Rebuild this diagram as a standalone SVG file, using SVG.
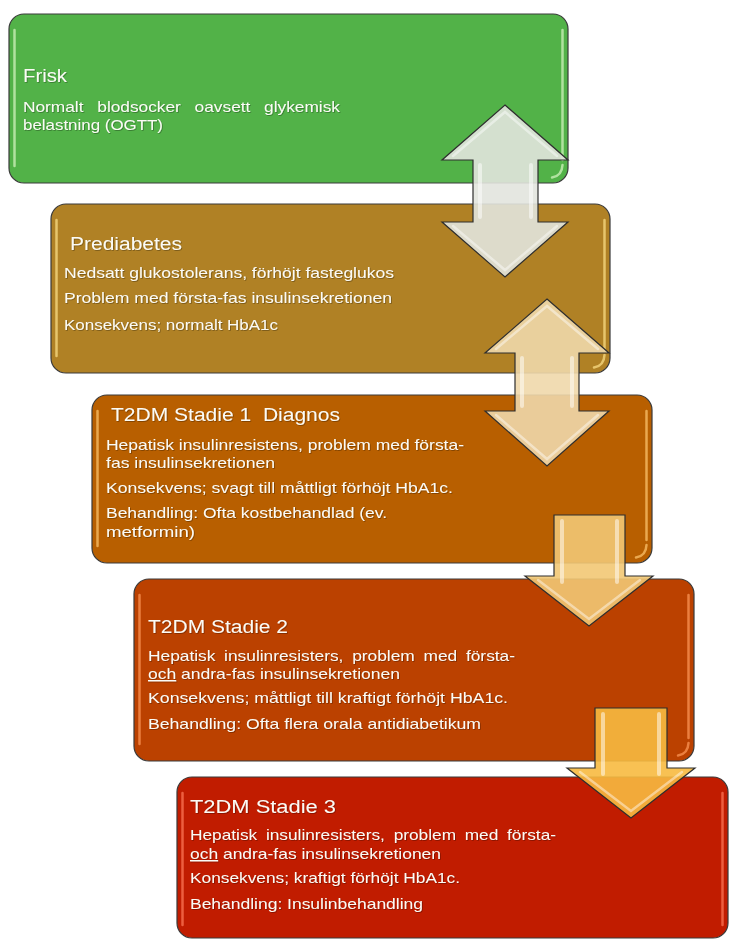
<svg xmlns="http://www.w3.org/2000/svg" width="729" height="940" viewBox="0 0 729 940">
<defs>
<filter id="ts" x="-5%" y="-30%" width="110%" height="160%">
<feDropShadow dx="0.8" dy="0.8" stdDeviation="0.5" flood-color="#000" flood-opacity="0.35"/>
</filter>
</defs>
<style>
.box{stroke:#3a3a3a;stroke-width:1.2}
.hl{fill:none;stroke-width:2.5;stroke-linecap:round;opacity:0.7}
.t{font-family:"Liberation Sans",Arial,sans-serif;fill:#fbfbf6;filter:url(#ts)}
.h{font-size:18px}
.b{font-size:14.5px}
.arr{stroke:#2e2e2e;stroke-width:1.2;stroke-linejoin:miter;fill-opacity:0.9}
.shine{fill:none;stroke:#ffffff;stroke-linecap:round}
.u{text-decoration:underline}
</style>
<rect width="729" height="940" fill="#ffffff"/>

<g id="frisk">
<rect class="box" x="9" y="14" width="559" height="169" rx="15" fill="#52b248"/>
<path class="hl" d="M14.5,30 L14.5,166" stroke="#d8f7c4"/>
<path class="hl" d="M562.5,30 L562.5,160 M562.5,165 Q562,176 552,177.5" stroke="#d8f7c4"/>
<text class="t h" x="23" y="82" textLength="44" lengthAdjust="spacingAndGlyphs">Frisk</text>
<text class="t b" x="23" y="112" textLength="317" lengthAdjust="spacingAndGlyphs" word-spacing="7.5">Normalt blodsocker oavsett glykemisk</text>
<text class="t b" x="23" y="130" textLength="140" lengthAdjust="spacingAndGlyphs">belastning (OGTT)</text>
</g>

<g id="prediabetes">
<rect class="box" x="51" y="204" width="559" height="169" rx="15" fill="#b08125"/>
<path class="hl" d="M56.5,220 L56.5,356" stroke="#ffe28a"/>
<path class="hl" d="M604.5,220 L604.5,350 M604.5,355 Q604,366 594,367.5" stroke="#ffe28a"/>
<text class="t h" x="70" y="250" textLength="112" lengthAdjust="spacingAndGlyphs">Prediabetes</text>
<text class="t b" x="64" y="278" textLength="330" lengthAdjust="spacingAndGlyphs">Nedsatt glukostolerans, förhöjt fasteglukos</text>
<text class="t b" x="64" y="303" textLength="328" lengthAdjust="spacingAndGlyphs">Problem med första-fas insulinsekretionen</text>
<text class="t b" x="64" y="330" textLength="214" lengthAdjust="spacingAndGlyphs">Konsekvens; normalt HbA1c</text>
</g>

<g id="stadie1">
<rect class="box" x="92" y="395" width="560" height="168" rx="15" fill="#b85f00"/>
<path class="hl" d="M97.5,411 L97.5,546" stroke="#ffc870"/>
<path class="hl" d="M646.5,411 L646.5,540 M646.5,545 Q646,556 636,557.5" stroke="#ffc870"/>
<text class="t h" x="111" y="421" textLength="229" lengthAdjust="spacingAndGlyphs" xml:space="preserve">T2DM Stadie 1  Diagnos</text>
<text class="t b" x="106" y="450" textLength="358" lengthAdjust="spacingAndGlyphs">Hepatisk insulinresistens, problem med första-</text>
<text class="t b" x="106" y="468" textLength="169" lengthAdjust="spacingAndGlyphs">fas insulinsekretionen</text>
<text class="t b" x="106" y="493" textLength="347" lengthAdjust="spacingAndGlyphs">Konsekvens; svagt till måttligt förhöjt HbA1c.</text>
<text class="t b" x="106" y="518" textLength="281" lengthAdjust="spacingAndGlyphs">Behandling: Ofta kostbehandlad (ev.</text>
<text class="t b" x="106" y="537" textLength="89" lengthAdjust="spacingAndGlyphs">metformin)</text>
</g>

<g id="stadie2">
<rect class="box" x="134" y="579" width="560" height="182" rx="15" fill="#bb4100"/>
<path class="hl" d="M139.5,595 L139.5,744" stroke="#ff9a5a"/>
<path class="hl" d="M688.5,595 L688.5,738 M688.5,743 Q688,754 678,755.5" stroke="#ff9a5a"/>
<text class="t h" x="148" y="633" textLength="140" lengthAdjust="spacingAndGlyphs">T2DM Stadie 2</text>
<text class="t b" x="148" y="661" textLength="367" lengthAdjust="spacingAndGlyphs" word-spacing="3.3">Hepatisk insulinresisters, problem med första-</text>
<text class="t b" x="148" y="679" textLength="252" lengthAdjust="spacingAndGlyphs"><tspan class="u">och</tspan> andra-fas insulinsekretionen</text>
<text class="t b" x="148" y="703" textLength="360" lengthAdjust="spacingAndGlyphs">Konsekvens; måttligt till kraftigt förhöjt HbA1c.</text>
<text class="t b" x="148" y="729" textLength="333" lengthAdjust="spacingAndGlyphs">Behandling: Ofta flera orala antidiabetikum</text>
</g>

<g id="stadie3">
<rect class="box" x="177" y="777" width="551" height="161" rx="15" fill="#c11c00"/>
<path class="hl" d="M182.5,793 L182.5,925" stroke="#ff7a5a"/>
<path class="hl" d="M722.5,793 L722.5,925" stroke="#ff7a5a"/>
<text class="t h" x="190" y="813" textLength="146" lengthAdjust="spacingAndGlyphs">T2DM Stadie 3</text>
<text class="t b" x="190" y="840" textLength="366" lengthAdjust="spacingAndGlyphs" word-spacing="3.3">Hepatisk insulinresisters, problem med första-</text>
<text class="t b" x="190" y="859" textLength="251" lengthAdjust="spacingAndGlyphs"><tspan class="u">och</tspan> andra-fas insulinsekretionen</text>
<text class="t b" x="190" y="883" textLength="270" lengthAdjust="spacingAndGlyphs">Konsekvens; kraftigt förhöjt HbA1c.</text>
<text class="t b" x="190" y="909" textLength="233" lengthAdjust="spacingAndGlyphs">Behandling: Insulinbehandling</text>
</g>

<g id="connectors">
<g id="arrow1">
<path class="arr" fill="#e2e4de" d="M505,105 L568,160 L538,160 L538,222 L568,222 L505,277 L442,222 L473,222 L473,160 L442,160 Z"/>
<path class="shine" stroke-width="4" opacity="0.5" d="M480,165 L480,217 M531,165 L531,217"/>
<path class="shine" stroke-width="2.5" opacity="0.45" d="M453,156 L505,112 L557,156 M453,226 L505,270 L557,226"/>
</g>
<g id="arrow2">
<path class="arr" fill="#efd8ab" d="M547,299 L609,353 L579,353 L579,411 L609,411 L547,466 L485,411 L515,411 L515,353 L485,353 Z"/>
<path class="shine" stroke-width="4" opacity="0.5" d="M522,358 L522,406 M572,358 L572,406"/>
<path class="shine" stroke-width="2.5" opacity="0.45" d="M496,349 L547,306 L598,349 M496,415 L547,459 L598,415"/>
</g>
<g id="arrow3">
<path class="arr" fill="#f2c874" d="M554,515 L625,515 L625,576 L653,576 L589,626 L525,576 L554,576 Z"/>
<path class="shine" stroke-width="4" opacity="0.5" d="M562,521 L562,582 M617,521 L617,582"/>
<path class="shine" stroke-width="2.5" opacity="0.45" d="M538,580 L589,619 L640,580"/>
</g>
<g id="arrow4">
<path class="arr" fill="#f7ba40" d="M595,708 L667,708 L667,768 L695,768 L631,818 L567,768 L595,768 Z"/>
<path class="shine" stroke-width="4" opacity="0.5" d="M603,714 L603,774 M659,714 L659,774"/>
<path class="shine" stroke-width="2.5" opacity="0.45" d="M580,772 L631,811 L682,772"/>
</g>
</g>
</svg>
